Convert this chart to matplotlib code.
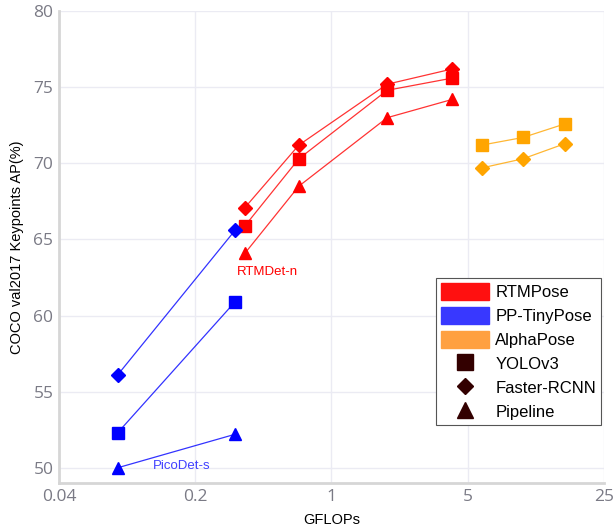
import matplotlib
matplotlib.use("Agg")
import matplotlib.pyplot as plt
from matplotlib.patches import Patch
from matplotlib.lines import Line2D

# ---- data ----
rtm_x = [0.36, 0.68, 1.93, 4.16]
rtm_yolo = [65.9, 70.3, 74.8, 75.6]
rtm_frcnn = [67.1, 71.2, 75.2, 76.2]
rtm_pipe = [64.1, 68.5, 73.0, 74.2]

pp_x = [0.08, 0.32]
pp_yolo = [52.3, 60.9]
pp_frcnn = [56.1, 65.6]
pp_pipe = [50.0, 52.2]

ap_x = [5.9, 9.6, 15.8]
ap_yolo = [71.2, 71.7, 72.6]
ap_frcnn = [69.7, 70.3, 71.3]

xticks = [0.04, 0.2, 1, 5, 25]
xticklabels = ["0.04", "0.2", "1", "5", "25"]
yticks = [50, 55, 60, 65, 70, 75, 80]

RED = "#ff0000"
BLUE = "#0000ff"
ORANGE = "#ffa500"

fig = plt.figure(figsize=(6.13, 5.31), dpi=100)
ax = fig.add_axes([0.0962, 0.0904, 0.8891, 0.8886])

def series(x, y, color, marker, ms):
    ax.plot(x, y, color=color, lw=0.9, alpha=0.8, zorder=2)
    ax.plot(x, y, ls="none", marker=marker, color=color, ms=ms, mec=color, zorder=3)

series(rtm_x, rtm_pipe, RED, "^", 9)
series(rtm_x, rtm_yolo, RED, "s", 9)
series(rtm_x, rtm_frcnn, RED, "D", 7)
series(pp_x, pp_pipe, BLUE, "^", 9)
series(pp_x, pp_yolo, BLUE, "s", 9)
series(pp_x, pp_frcnn, BLUE, "D", 7)
series(ap_x, ap_yolo, ORANGE, "s", 9)
series(ap_x, ap_frcnn, ORANGE, "D", 7)

ax.text(0.47, 62.85, "RTMDet-n", color=RED, fontsize=9.5, ha="center", va="center",
        family="Liberation Sans")
ax.text(0.17, 50.1, "PicoDet-s", color="#4040ff", fontsize=9.5, ha="center", va="center",
        family="Liberation Sans")

ax.set_xscale("log")
ax.set_xlim(0.04, 25)
ax.set_ylim(49, 80)
ax.set_xticks(xticks)
ax.set_xticklabels(xticklabels)
ax.minorticks_off()
ax.set_yticks(yticks)
ax.tick_params(length=0, labelsize=12.5, labelcolor="#7a7a85", pad=4)
for lab in ax.get_xticklabels() + ax.get_yticklabels():
    lab.set_family("Open Sans")
ax.grid(True, color="#ebebf3", lw=1)
ax.set_axisbelow(True)
for s in ["top", "right"]:
    ax.spines[s].set_visible(False)
for s in ["left", "bottom"]:
    ax.spines[s].set_color("#d6d6d6")
    ax.spines[s].set_linewidth(2)

ax.set_xlabel("GFLOPs", fontsize=10.5, family="Liberation Sans", labelpad=6)
ax.set_ylabel("COCO val2017 Keypoints AP(%)", fontsize=10.5, family="Liberation Sans", labelpad=7)

handles = [
    Patch(facecolor="#ff1010", edgecolor="#ff1010", label="RTMPose"),
    Patch(facecolor="#3838ff", edgecolor="#3838ff", label="PP-TinyPose"),
    Patch(facecolor="#ffa040", edgecolor="#ffa040", label="AlphaPose"),
    Line2D([], [], ls="none", marker="s", color="#330000", ms=11, label="YOLOv3"),
    Line2D([], [], ls="none", marker="D", color="#330000", ms=8.5, label="Faster-RCNN"),
    Line2D([], [], ls="none", marker="^", color="#330000", ms=11, label="Pipeline"),
]
leg = ax.legend(handles=handles, loc="upper left", bbox_to_anchor=(0.692, 0.434),
                prop={"family": "Liberation Sans", "size": 12}, frameon=True,
                fancybox=False, edgecolor="#555555", framealpha=1,
                handlelength=2.9, handleheight=1.15, handletextpad=0.35,
                labelspacing=0.42, borderpad=0.3, borderaxespad=0)
leg.get_frame().set_linewidth(0.8)

fig.savefig("out.png", dpi=100)
